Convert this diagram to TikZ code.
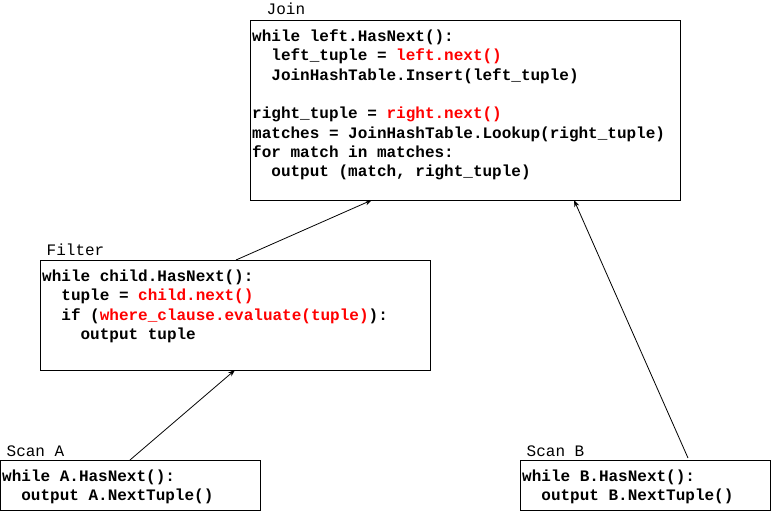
\documentclass[tikz,border=0pt]{standalone}
\usepackage{fontspec}
\newfontfamily\codefont{Liberation Mono}[WordSpace={1,0,0}]
\usetikzlibrary{arrows.meta}
\definecolor{codered}{HTML}{FF0000}
\tikzset{
  box/.style={draw, line width=1pt, rectangle, inner sep=0pt, anchor=north west},
  codeline/.style={anchor=base west, inner sep=0pt, font=\codefont\bfseries\fontsize{16}{19}\selectfont},
  oplabel/.style={anchor=base west, inner sep=0pt, font=\codefont\fontsize{16}{19}\selectfont},
  flow/.style={-{Stealth[length=7pt,width=5pt]}, line width=0.8pt}
}
\newcommand{\hot}[1]{\textcolor{codered}{#1}}
\begin{document}\frenchspacing
\begin{tikzpicture}[x=1pt,y=-1pt]
\useasboundingbox (0,0) rectangle (771,511);
% boxes
\node[box, minimum width=430pt, minimum height=180pt] (join) at (250,20) {};
\node[box, minimum width=390pt, minimum height=110pt] (filter) at (40,260) {};
\node[box, minimum width=260pt, minimum height=50pt] (scana) at (0,460) {};
\node[box, minimum width=250pt, minimum height=50pt] (scanb) at (520,460) {};
% labels
\node[oplabel] (ljoin) at (266.5,15) {Join};
\node[oplabel] (lfilter) at (46.5,255) {Filter};
\node[oplabel] (lscana) at (6.5,456) {Scan A};
\node[oplabel] (lscanb) at (526.5,456) {Scan B};
% join code
\node[codeline] (j1) at (252,41.5) {while left.HasNext():};
\node[codeline] (j2) at (271.2,60.8) {left\_tuple = \hot{left.next()}};
\node[codeline] (j3) at (271.2,80.1) {JoinHashTable.Insert(left\_tuple)};
\node[codeline] (j4) at (252,118.7) {right\_tuple = \hot{right.next()}};
\node[codeline] (j5) at (252,138) {matches = JoinHashTable.Lookup(right\_tuple)};
\node[codeline] (j6) at (252,157.3) {for match in matches:};
\node[codeline] (j7) at (271.2,176.6) {output (match, right\_tuple)};
% filter code
\node[codeline] (f1) at (42,281.5) {while child.HasNext():};
\node[codeline] (f2) at (61.2,300.8) {tuple = \hot{child.next()}};
\node[codeline] (f3) at (61.2,320.1) {if (\hot{where\_clause.evaluate(tuple)}):};
\node[codeline] (f4) at (80.4,339.4) {output tuple};
% scan code
\node[codeline] (a1) at (2,481.5) {while A.HasNext():};
\node[codeline] (a2) at (21.2,500.8) {output A.NextTuple()};
\node[codeline] (b1) at (522,481.5) {while B.HasNext():};
\node[codeline] (b2) at (541.2,500.8) {output B.NextTuple()};
% connector ends
\coordinate (fout) at (236,260);
\coordinate (jinl) at (372,200);
\coordinate (aout) at (130,460);
\coordinate (fin) at (235,370);
\coordinate (bout) at (688,458);
\coordinate (jinr) at (574,200);
\draw[flow] (fout) -- (jinl);
\draw[flow] (aout) -- (fin);
\draw[flow] (bout) -- (jinr);
\end{tikzpicture}
\end{document}
